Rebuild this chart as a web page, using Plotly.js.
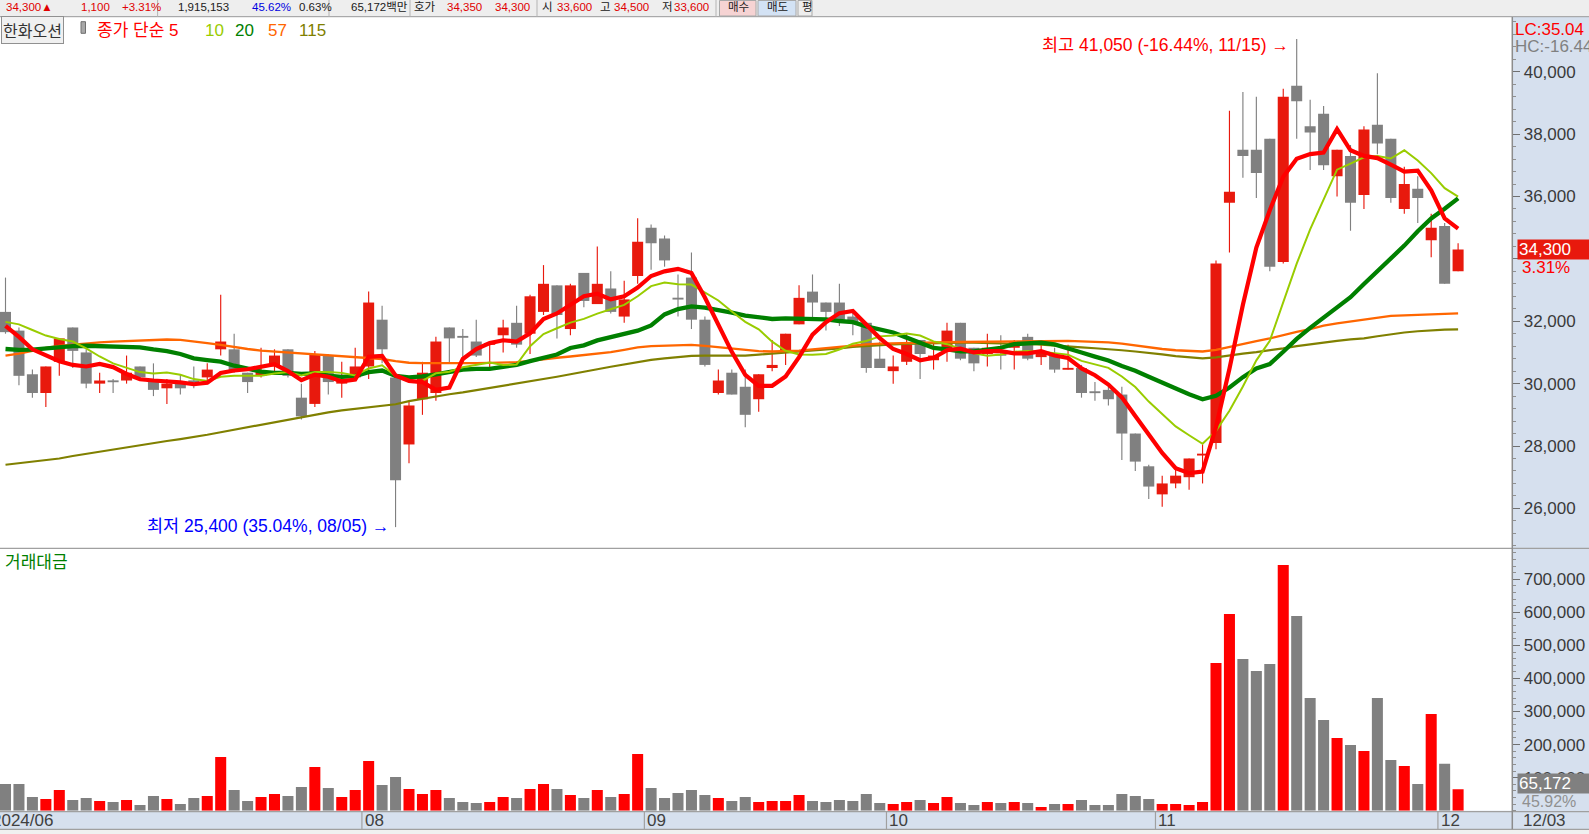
<!DOCTYPE html>
<html><head><meta charset="utf-8">
<script src="https://cdn.plot.ly/plotly-3.0.1.min.js"></script>
<style>html,body{margin:0;padding:0;background:#fff;overflow:hidden}#chart{width:1589px;height:834px}</style>
</head><body><div id="chart"></div>
<script>
// ---------------- data ----------------
const stockName = '한화오션';
const dates = ['06/25','06/26','06/27','06/28',
 '07/01','07/02','07/03','07/04','07/05','07/08','07/09','07/10','07/11','07/12','07/15','07/16','07/17','07/18','07/19','07/22','07/23','07/24','07/25','07/26','07/29','07/30','07/31',
 '08/01','08/02','08/05','08/06','08/07','08/08','08/09','08/12','08/13','08/14','08/16','08/19','08/20','08/21','08/22','08/23','08/26','08/27','08/28','08/29','08/30',
 '09/02','09/03','09/04','09/05','09/06','09/09','09/10','09/11','09/12','09/13','09/19','09/20','09/23','09/24','09/25','09/26','09/27','09/30',
 '10/02','10/04','10/07','10/08','10/10','10/11','10/14','10/15','10/16','10/17','10/18','10/21','10/22','10/23','10/24','10/25','10/28','10/29','10/30','10/31',
 '11/01','11/04','11/05','11/06','11/07','11/08','11/11','11/12','11/13','11/14','11/15','11/18','11/19','11/20','11/21','11/22','11/25','11/26','11/27','11/28','11/29',
 '12/02','12/03'];
const open = [32300,31700,30300,29700,30700,31800,31000,30000,30100,30100,
 30550,30100,29850,30000,30100,30200,31100,31100,30350,30250,
 30550,31100,29550,29350,30900,30000,30200,30550,32050,30200,
 28050,29500,29700,31800,31500,31350,31250,31550,31950,31600,
 32300,33150,31750,33550,32550,33050,32150,33450,35000,34650,
 32750,33400,32050,29700,30350,29900,29500,30500,31000,31900,
 32950,32600,32600,32150,31950,30800,30400,30700,31400,30750,
 31050,31950,31150,30950,30950,31150,31500,30850,30900,30450,
 30500,29750,29800,29650,28400,27350,26450,26800,27000,27700,
 28100,35800,37500,37500,37850,33900,39550,38250,38650,36650,
 37300,36050,38300,37850,35600,36250,34600,35050,33600];
const high = [33400,31800,30450,30550,31450,31800,31100,30350,30150,30900,
 30550,30650,30150,30300,30550,30650,32850,31600,30350,31150,
 31100,31100,30000,31050,30950,30700,31150,32950,32500,30200,
 29450,30700,31500,31800,31750,32050,31300,32050,32500,32850,
 33800,33150,33200,33550,34400,33600,33300,35300,35100,34750,
 33500,34200,32150,30450,30450,30450,30300,31400,31600,33150,
 33500,32600,33200,32300,31950,31350,30900,31600,31400,31300,
 31950,31950,31150,31600,31550,31400,31600,31250,31150,31250,
 30600,30050,29900,29900,28400,27400,27050,27250,27600,28050,
 33950,38750,39350,39200,37850,39450,41050,39100,38900,37500,
 37650,38250,39950,37850,36950,36650,35450,35150,34500];
const low = [31600,29950,29550,29250,30250,30500,29850,29700,29700,30000,
 30100,29600,29350,29650,29850,30100,30900,30350,29700,30200,
 30350,30200,28850,29250,29650,29550,30150,30150,30650,25400,
 27450,29000,29450,30650,30650,30850,30450,31000,31150,30950,
 32200,31450,31550,32450,32550,32250,31950,33200,33650,33750,
 32150,31750,30550,29650,29650,28600,29100,30400,30600,31900,
 32050,31700,31850,31550,30350,30500,30000,30600,30150,30450,
 30700,30750,30400,30550,30450,30450,30750,30600,30350,30450,
 29550,29450,29300,27550,27200,26300,26050,26650,26600,26800,
 27900,34200,36600,35950,33600,33850,37850,36850,36850,36000,
 34900,35600,37350,35800,35450,35150,34050,33200,33600];
const close = [31650,30250,29700,30550,31450,31050,30000,30100,30050,30350,
 30200,29800,30000,29850,30050,30450,31350,30400,30050,30400,
 30900,30250,28950,30950,30050,30150,30550,32600,31100,26900,
 29300,30350,31350,31450,31500,30900,31300,31800,31250,32800,
 33200,32200,33150,32650,33200,32300,32700,34550,34500,33950,
 32700,32050,30600,30100,29650,29000,30300,30600,31600,32750,
 32600,32300,32050,31950,30500,30500,30550,31250,30950,30900,
 31700,30800,30650,31150,30900,31350,30800,31000,30450,30500,
 29700,29700,29500,28400,27500,26700,26800,27050,27600,27750,
 33850,36150,37300,36750,33750,39200,39050,38050,37000,37500,
 35800,38150,37700,35950,36400,35950,35000,33200,34300];
// 거래대금 (백만원)
const volume = [80770,80770,41440,35390,62620,32370,38420,29340,26320,32370,
 17240,44470,35390,20270,38420,44470,162440,62620,29340,41440,
 50520,44470,71690,132190,68670,41440,62620,150340,77740,101940,
 65640,50520,62620,38420,26320,23290,26320,41440,38420,65640,
 80770,65640,47490,38420,62620,41440,50520,171520,68670,38420,
 53540,62620,47490,38420,29340,41440,26320,29340,29340,47490,
 29340,26320,32370,29340,50520,23290,20270,26320,32370,23290,
 41440,23290,17240,26320,23290,26320,23290,11190,20270,20270,
 32370,17240,17240,50520,44470,35390,20270,20270,17240,26320,
 446800,595020,458890,422590,443770,743240,588970,340920,274370,219920,
 198740,180590,340920,153370,135220,80770,292520,141930,65172];
// moving-average values before enough closes are visible
const ma5Head = [31850,31500,31100,30900];
const ma10Head = [31980,31900,31720,31540,31430,31350,31130,30870,30650];
const ma20Head = [31110,31080,31090,31130,31185,31205,31215,31205,31185,31185,
 31165,31100,31045,30950,30810,30755,30705,30575,30490];
const ma57 = [30900,30960,31050,31150,31210,31250,31290,31320,31345,31365,
 31385,31410,31415,31400,31360,31300,31240,31170,31110,31060,
 31030,31000,30970,30940,30915,30890,30865,30830,30790,30720,
 30670,30660,30655,30650,30650,30655,30665,30675,30690,30730,
 30790,30830,30870,30910,30950,31010,31080,31160,31200,31220,
 31235,31240,31210,31170,31130,31090,31040,31030,31040,31060,
 31100,31140,31200,31230,31260,31280,31295,31305,31315,31320,
 31330,31335,31340,31345,31350,31355,31360,31370,31377,31370,
 31355,31340,31320,31280,31220,31160,31110,31070,31050,31030,
 31080,31180,31260,31360,31450,31560,31660,31750,31860,31930,
 31990,32060,32110,32170,32190,32210,32230,32245,32255];
const ma115 = [27400,27450,27500,27550,27600,27680,27750,27830,27900,27960,
 28020,28090,28160,28220,28280,28360,28440,28520,28600,28700,
 28780,28850,28930,29000,29080,29140,29190,29240,29290,29340,
 29440,29520,29590,29660,29720,29790,29850,29920,29990,30060,
 30140,30220,30300,30390,30460,30540,30620,30700,30760,30810,
 30850,30890,30895,30890,30886,30900,30930,30960,30990,31030,
 31060,31090,31130,31180,31210,31240,31260,31275,31290,31300,
 31310,31313,31310,31305,31295,31285,31270,31250,31215,31190,
 31160,31135,31110,31070,31030,30990,30940,30880,30840,30810,
 30840,30910,30960,31010,31060,31130,31200,31260,31330,31370,
 31420,31450,31520,31590,31640,31680,31715,31730,31740];
const maPeriods = [5,10,20,57,115];
const priceTicks = [26000,28000,30000,32000,34000,36000,38000,40000];
const volumeTicks = [100000,200000,300000,400000,500000,600000,700000];
const monthTickDates = ['08/01','09/02','10/02','11/01','12/02'];
const monthTickLabels = ['08','09','10','11','12'];
const firstTickLabel = '2024/06';
const lastDateLabel = '12/03';
const quoteExtra = {shares:'1,915,153', ratio:'45.62%', turnover:'0.63%', ask:'34,350', bid:'34,300'};

// ---------------- helpers ----------------
const W = 1589, H = 834;
const px = x => x / W, py = y => 1 - y / H;
const NUM = 'Liberation Sans, Noto Sans CJK KR, DejaVu Sans, sans-serif';
const fmt = v => Math.round(v).toLocaleString('en-US');
const n = close.length;
const idx = close.map((_, i) => i);
function sma(p, head){ return close.map((c,i)=> i < p-1 ? head[i] : close.slice(i-p+1,i+1).reduce((a,b)=>a+b,0)/p); }
const ma5 = sma(5, ma5Head), ma10 = sma(10, ma10Head), ma20 = sma(20, ma20Head);
const up = close.map((c,i)=> c > open[i]);
const candleCol = up.map(u => u ? '#E8190D' : '#808080');
const volCol = up.map(u => u ? '#FF0000' : '#808080');
const MINB = 60;
const bodyBase = open.map((o,i)=>{const d=Math.abs(close[i]-o);const m=Math.min(o,close[i]);return d<MINB? m-(MINB-d)/2 : m;});
const bodyLen = open.map((o,i)=>Math.max(Math.abs(close[i]-o), MINB));

const last = n-1;
const lastClose = close[last], prevClose = close[last-1];
const chg = lastClose - prevClose, chgPct = chg/prevClose*100;
let hiI = 0, loI = 0;
high.forEach((h,i)=>{ if(h>high[hiI]) hiI=i; });
low.forEach((l,i)=>{ if(l<low[loI]) loI=i; });
const lc = (lastClose/low[loI]-1)*100, hc = (lastClose/high[hiI]-1)*100;
const volPct = volume[last]/volume[last-1]*100;

const maCols = ['#FF0000','#99CC00','#008000','#FF6600','#808000'];
function line(y,color,w){return {type:'scatter',mode:'lines',x:idx,y:y,line:{color:color,width:w},xaxis:'x',yaxis:'y',hoverinfo:'skip'};}

const traces = [
  line(ma115, maCols[4], 2.2),
  line(ma57, maCols[3], 2.3),
  line(ma20, maCols[2], 4.3),
  line(ma10, maCols[1], 2),
  line(ma5, maCols[0], 4.2),
  {type:'bar',x:idx,base:low,y:high.map((h,i)=>h-low[i]),width:0.085,marker:{color:candleCol,line:{width:0}},xaxis:'x',yaxis:'y',hoverinfo:'skip'},
  {type:'bar',x:idx,base:bodyBase,y:bodyLen,width:0.82,marker:{color:candleCol,line:{width:0}},xaxis:'x',yaxis:'y',hoverinfo:'skip'},
  {type:'bar',x:idx,y:volume,width:0.82,marker:{color:volCol,line:{width:0}},xaxis:'x',yaxis:'y2',hoverinfo:'skip'}
];

// ---------------- decorations ----------------
const shapes = [];
const ann = [];
function rectPx(x0,y0,x1,y1,fill,lc,lw){shapes.push({type:'rect',xref:'paper',yref:'paper',x0:px(x0),x1:px(x1),y0:py(y1),y1:py(y0),fillcolor:fill,line:{color:lc||fill,width:lw||0},layer:'above'});}
function linePx(x0,y0,x1,y1,c,w){shapes.push({type:'line',xref:'paper',yref:'paper',x0:px(x0),x1:px(x1),y0:py(y0),y1:py(y1),line:{color:c,width:w||1},layer:'above'});}
function textPx(t,x,y,color,size,anchor,extra){ann.push(Object.assign({text:t,xref:'paper',yref:'paper',x:px(x),y:py(y),xanchor:anchor||'left',yanchor:'middle',showarrow:false,font:{family:NUM,size:size,color:color}},extra||{}));}

// toolbar
rectPx(0,0,W,16.7,'#EEEEEE');
linePx(0,16.7,W,16.7,'#9A9A9A',1);
[157.6,329,410,537,716].forEach(x=>linePx(x,0,x,16.7,'#B4B4B4',1));
rectPx(719.5,0.5,756,16,'#F6D3D3','#A8A8A8',1);
rectPx(758,0.5,796,16,'#D3E2F4','#A8A8A8',1);
rectPx(798,0.5,812,16,'#EEEEEE','#A8A8A8',1);
const RED='#E00000', DK='#202020';
const tb = [
  [fmt(lastClose)+'▲',4,RED],[fmt(chg),78.5,RED],['+'+chgPct.toFixed(2)+'%',120,RED],
  [quoteExtra.shares,175.6,DK],[quoteExtra.ratio,250,'#0000E0'],[quoteExtra.turnover,296.5,DK],
  [fmt(volume[last])+'백만',348.7,DK],['호가',412,DK],[quoteExtra.ask,445,RED],[quoteExtra.bid,493,RED],
  ['시',540,DK],[fmt(open[last]),555,RED],['고',598,DK],[fmt(high[last]),612,RED],['저',660,DK],[fmt(low[last]),671.6,RED],
  ['매수',726,DK],['매도',765,DK],['평',800,DK]
];
tb.forEach(t=>textPx(t[0],t[1],7.5,t[2],11.5));

// legend row
textPx(stockName,1,30.5,'#333333',17,'left',{bgcolor:'#F0F0F0',bordercolor:'#909090',borderwidth:1,borderpad:1,font:{family:'Noto Sans CJK KR, sans-serif',size:16,color:'#333333'}});
rectPx(81,21.7,85.5,33.3,'#A8A8A8','#707070',1);
textPx('종가 단순 '+maPeriods[0],94.5,30.5,maCols[0],17);
textPx(String(maPeriods[1]),203,30.5,maCols[1],17);
textPx(String(maPeriods[2]),233.5,30.5,maCols[2],17);
textPx(String(maPeriods[3]),266,30.5,maCols[3],17);
textPx(String(maPeriods[4]),297,30.5,maCols[4],17);

// high / low markers
ann.push({text:'최고 '+fmt(high[hiI])+' ('+hc.toFixed(2)+'%, '+dates[hiI]+') →',x:hiI,y:high[hiI],xref:'x',yref:'y',xanchor:'right',yanchor:'middle',xshift:-6,yshift:-6,showarrow:false,font:{family:NUM,size:17.5,color:'#FF0000'}});
ann.push({text:'최저 '+fmt(low[loI])+' ('+lc.toFixed(2)+'%, '+dates[loI]+') →',x:loI,y:low[loI],xref:'x',yref:'y',xanchor:'right',yanchor:'middle',xshift:-5,yshift:1,showarrow:false,font:{family:NUM,size:17.5,color:'#0000FF'}});

// right panel texts
textPx('LC:'+lc.toFixed(2),1513.3,29,'#FF0000',17);
textPx('HC:'+hc.toFixed(2),1513.3,47,'#808080',17);
ann.push({text:fmt(lastClose),xref:'paper',yref:'y',x:px(1516.7),y:lastClose,xanchor:'left',yanchor:'middle',showarrow:false,bgcolor:'#E8190D',borderpad:1,width:80,height:17,align:'left',font:{family:NUM,size:17,color:'#FFFFFF'}});
ann.push({text:chgPct.toFixed(2)+'%',xref:'paper',yref:'y',x:px(1520),y:lastClose,yshift:-18,xanchor:'left',yanchor:'middle',showarrow:false,font:{family:NUM,size:17,color:'#FF0000'}});
ann.push({text:fmt(volume[last]),xref:'paper',yref:'y2',x:px(1516.7),y:volume[last],yshift:6,xanchor:'left',yanchor:'middle',showarrow:false,bgcolor:'#808080',borderpad:1,width:80,height:17,align:'left',font:{family:NUM,size:17,color:'#FFFFFF'}});
ann.push({text:volPct.toFixed(2)+'%',xref:'paper',yref:'y2',x:px(1520),y:volume[last],yshift:-12,xanchor:'left',yanchor:'middle',showarrow:false,font:{family:NUM,size:16,color:'#909090'}});
textPx('거래대금',2.5,560,'#008000',17,'left',{font:{family:'Noto Sans CJK KR, sans-serif',size:17,color:'#008000'}});

// pane separator, axis line, bottom strip
linePx(0,548.3,W,548.3,'#A0A0A0',1.3);
rectPx(0,811.7,W,829.3,'#D6E0EE');
linePx(0,811.7,W,811.7,'#A0A0A0',1.3);
linePx(0,829.3,W,829.3,'#A0A0A0',1.3);
rectPx(0,830,W,834,'#F0F0F0');
linePx(1512.3,17,1512.3,829.3,'#8C8C8C',1.5);
monthTickDates.forEach((d,k)=>{
  const i = dates.indexOf(d);
  shapes.push({type:'line',xref:'x',yref:'paper',x0:i-0.5,x1:i-0.5,y0:py(829.3),y1:py(811.7),line:{color:'#A0A0A0',width:1.2},layer:'above'});
  ann.push({text:monthTickLabels[k],xref:'x',yref:'paper',x:i-0.5,y:py(820.8),xanchor:'left',yanchor:'middle',xshift:1,showarrow:false,font:{family:NUM,size:17,color:'#404040'}});
});
textPx(firstTickLabel,55,820.8,'#404040',17,'right');
textPx(lastDateLabel,1521,820.8,'#404040',17,'left');

// the tick label next to the last-price box is hidden behind it in the original
const priceText = priceTicks.map(t => Math.abs(t - lastClose) < 1000 ? '' : fmt(t));
const volText = volumeTicks.map(t => fmt(t));

const axFont = {family:NUM,size:17,color:'#3A3A3A'};
const layout = {
  width:W,height:H,margin:{l:0,r:0,t:0,b:0,pad:0},
  paper_bgcolor:'#D6E0EE',plot_bgcolor:'#FFFFFF',showlegend:false,barmode:'overlay',hovermode:false,
  xaxis:{domain:[0,px(1512.3)],range:[-0.409,112.03],showticklabels:false,showgrid:false,zeroline:false,showline:false,ticks:'',fixedrange:true},
  yaxis:{domain:[py(548),py(17)],range:[24730.6,41753.6],side:'right',anchor:'x',showgrid:false,zeroline:false,showline:false,
    tickmode:'array',tickvals:priceTicks,ticktext:priceText,ticks:'outside',ticklen:7,tickwidth:1,tickcolor:'#707070',tickfont:axFont,automargin:false,
    minor:{tickmode:'linear',tick0:0,dtick:400,ticks:'outside',ticklen:3,tickwidth:1,tickcolor:'#909090',showgrid:false}},
  yaxis2:{domain:[py(810.7),py(549)],range:[1,791591],side:'right',anchor:'x',showgrid:false,zeroline:false,showline:false,
    tickmode:'array',tickvals:volumeTicks,ticktext:volText,ticks:'outside',ticklen:7,tickwidth:1,tickcolor:'#707070',tickfont:axFont,automargin:false,
    minor:{tickmode:'linear',tick0:0,dtick:20000,ticks:'outside',ticklen:3,tickwidth:1,tickcolor:'#909090',showgrid:false}},
  shapes:shapes,annotations:ann
};
Plotly.newPlot('chart',traces,layout,{staticPlot:true,displayModeBar:false});
</script></body></html>
